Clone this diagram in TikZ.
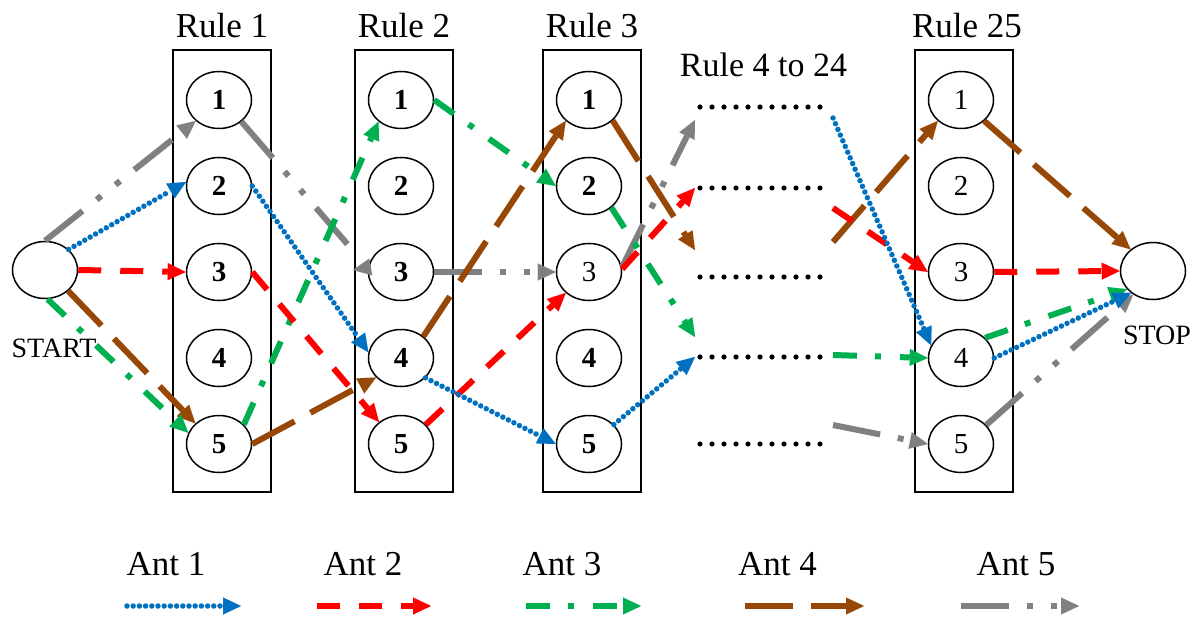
\documentclass[tikz,border=0pt]{standalone}
\usepackage{fontspec}
\setmainfont{Liberation Serif}
\usetikzlibrary{shapes.geometric,arrows.meta,calc}
\definecolor{antblue}{RGB}{0,112,192}
\definecolor{antred}{RGB}{255,0,0}
\definecolor{antgreen}{RGB}{0,176,80}
\definecolor{antbrown}{RGB}{151,72,6}
\definecolor{antgray}{RGB}{128,128,128}
\tikzset{
 st/.style={draw,ellipse,line width=1.5pt,minimum width=65pt,minimum height=57pt,inner sep=0pt},
 num/.style={font=\fontsize{29}{32}\selectfont\bfseries},
 numr/.style={font=\fontsize{29}{32}\selectfont},
 rulebox/.style={draw,line width=1.5pt,minimum width=98pt,minimum height=442pt,inner sep=0pt},
 lbl/.style={font=\fontsize{35}{40}\selectfont,anchor=base,inner sep=0pt},
 tip/.style={-{Triangle[length=18pt,width=17pt,line width=0.01pt]}},
 antA/.style={tip,antblue,line width=5.5pt,line cap=round,dash pattern=on 0pt off 6.2pt},
 antB/.style={tip,antred,line width=6pt,dash pattern=on 23pt off 19pt},
 antC/.style={tip,antgreen,line width=6pt,dash pattern=on 24pt off 18pt on 6pt off 19pt},
 antD/.style={tip,antbrown,line width=6pt,dash pattern=on 48pt off 18pt},
 antE/.style={tip,antgray,line width=6pt,dash pattern=on 48pt off 18pt on 6pt off 18pt on 6pt off 18pt},
}
\begin{document}
\begin{tikzpicture}[x=1pt,y=-1pt]
\useasboundingbox (0,0) rectangle (1203,623);
% boxes
\node[rulebox] (box1) at (222,271) {};
\node[rulebox] (box2) at (404,271) {};
\node[rulebox] (box3) at (592,271) {};
\node[rulebox] (box25) at (964,271) {};
\node[lbl] (t1) at (222,38) {Rule 1};
\node[lbl] (t2) at (404,38) {Rule 2};
\node[lbl] (t3) at (592,38) {Rule 3};
\node[lbl] (t25) at (967,38) {Rule 25};
\node[lbl,font=\fontsize{34}{38}\selectfont] (t4) at (763.5,77) {Rule 4 to 24};
% state nodes
\foreach \i in {1,...,5} {
  \node[st,num] (a\i) at (219,{100+86*(\i-1)}) {\i};
  \node[st,num] (b\i) at (401,{100+86*(\i-1)}) {\i};
  \node[st,numr] (z\i) at (961,{100+86*(\i-1)}) {\i};
}
\node[st,num] (c1) at (589,100) {1};
\node[st,num] (c2) at (589,186) {2};
\node[st,numr] (c3) at (589,272) {3};
\node[st,num] (c4) at (589,358) {4};
\node[st,num] (c5) at (589,444) {5};
\node[st] (S) at (45,270) {};
\node[st] (T) at (1153,271) {};
\node[lbl,font=\fontsize{28}{30}\selectfont] (Sl) at (54,357) {START};
\node[lbl,font=\fontsize{28}{30}\selectfont] (Tl) at (1157,344) {STOP};
% dotted rows
\foreach \y in {107,188,277,357,444} {
  \foreach \k in {0,...,10} \fill (700+12*\k,\y) circle (2.6pt);
}
% row connection points
\coordinate (i1) at (695,120);
\coordinate (i2) at (695,188);
\coordinate (i3) at (695,250);
\coordinate (i4a) at (695,337);
\coordinate (i4b) at (695,357);
\coordinate (o1) at (833,118);
\coordinate (o2) at (833,208);
\coordinate (o3) at (833,242);
\coordinate (o4) at (833,355);
\coordinate (o5) at (833,425);
\coordinate (g1) at (349,246);
\coordinate (g2) at (353,270);
% Ant 5
\draw[antE] (S.north) -- (a1.222);
\draw[antE] (a1.-44) -- (g1) (b3.172) -- (g2);
\draw[antE] (b3.east) -- (c3.west);
\draw[antE] (c3.8) -- (i1);
\draw[antE] (o5) -- (z5.west);
\draw[antE] (z5.37) -- (T.230);
% Ant 4
\draw[antD] (S.-42) -- (a5.139);
\draw[antD] (a5.east) -- (b4.218);
\draw[antD] (b4.44) -- (c1.222);
\draw[antD] (c1.-41) -- (i3);
\draw[antD] (o3) -- (z1.222);
\draw[antD] (z1.-42) -- (T.136);
% Ant 3
\draw[antC] (S.-85) -- (a5.160);
\draw[antC] (a5.38) -- (b1.224);
\draw[antC] (b1.east) -- (c2.west);
\draw[antC] (c2.-44) -- (i4a);
\draw[antC] (o4) -- (z4.west);
\draw[antC] (z4.40) -- (T.215);
% Ant 2
\draw[antB] (S.east) -- (a3.west);
\draw[antB] (a3.east) -- (b5.135);
\draw[antB] (b5.38) -- (c3.222);
\draw[antB] (c3.5) -- (i2);
\draw[antB] (o2) -- (z3.west);
\draw[antB] (z3.east) -- (T.west);
% Ant 1
\draw[antA] (S.41) -- (a2.173);
\draw[antA] (a2.east) -- (b4.170);
\draw[antA] (b4.-39) -- (c5.west);
\draw[antA] (c5.38) -- (i4b);
\draw[antA] (o1) -- (z4.157);
\draw[antA] (z4.east) -- (T.225);
% legend
\node[lbl] (L1) at (166,575) {Ant 1};
\node[lbl] (L2) at (363,575) {Ant 2};
\node[lbl] (L3) at (562,575) {Ant 3};
\node[lbl] (L4) at (777.5,575) {Ant 4};
\node[lbl] (L5) at (1016,575) {Ant 5};
\coordinate (l1s) at (127,606); \coordinate (l1e) at (241,606);
\coordinate (l2s) at (317,606); \coordinate (l2e) at (431,606);
\coordinate (l3s) at (526,606); \coordinate (l3e) at (641,606);
\coordinate (l4s) at (745,606); \coordinate (l4e) at (864,606);
\coordinate (l5s) at (961,606); \coordinate (l5e) at (1079,606);
\draw[antA] (l1s) -- (l1e);
\draw[antB] (l2s) -- (l2e);
\draw[antC] (l3s) -- (l3e);
\draw[antD] (l4s) -- (l4e);
\draw[antE] (l5s) -- (l5e);
\end{tikzpicture}
\end{document}
